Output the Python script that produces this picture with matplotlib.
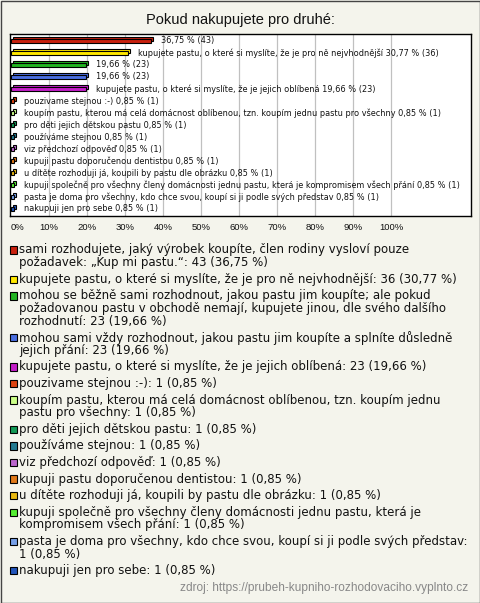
import matplotlib
matplotlib.use('Agg')
import matplotlib.pyplot as plt
from matplotlib.patches import Rectangle
import matplotlib.transforms as mtransforms

plt.rcParams['font.family'] = ['Liberation Sans', 'DejaVu Sans']

# ---------------- data ----------------
categories = [
    "sami rozhodujete, jaký výrobek koupíte, člen rodiny vysloví pouze požadavek: „Kup mi pastu.“",
    "kupujete pastu, o které si myslíte, že je pro ně nejvhodnější",
    "mohou se běžně sami rozhodnout, jakou pastu jim koupíte; ale pokud požadovanou pastu v obchodě nemají, kupujete jinou, dle svého dalšího rozhodnutí",
    "mohou sami vždy rozhodnout, jakou pastu jim koupíte a splníte důsledně jejich přání",
    "kupujete pastu, o které si myslíte, že je jejich oblíbená",
    "pouzivame stejnou :-)",
    "koupím pastu, kterou má celá domácnost oblíbenou, tzn. koupím jednu pastu pro všechny",
    "pro děti jejich dětskou pastu",
    "používáme stejnou",
    "viz předchozí odpověď",
    "kupuji pastu doporučenou dentistou",
    "u dítěte rozhoduji já, koupili by pastu dle obrázku",
    "kupuji společně pro všechny členy domácnosti jednu pastu, která je kompromisem všech přání",
    "pasta je doma pro všechny, kdo chce svou, koupí si ji podle svých představ",
    "nakupuji jen pro sebe",
]
inline_labels = [
    "",
    "kupujete pastu, o které si myslíte, že je pro ně nejvhodnější",
    "",
    "",
    "kupujete pastu, o které si myslíte, že je jejich oblíbená",
    "pouzivame stejnou :-)",
    "koupím pastu, kterou má celá domácnost oblíbenou, tzn. koupím jednu pastu pro všechny",
    "pro děti jejich dětskou pastu",
    "používáme stejnou",
    "viz předchozí odpověď",
    "kupuji pastu doporučenou dentistou",
    "u dítěte rozhoduji já, koupili by pastu dle obrázku",
    "kupuji společně pro všechny členy domácnosti jednu pastu, která je kompromisem všech přání",
    "pasta je doma pro všechny, kdo chce svou, koupí si ji podle svých představ",
    "nakupuji jen pro sebe",
]
counts = [43, 36, 23, 23, 23, 1, 1, 1, 1, 1, 1, 1, 1, 1, 1]
percents = [36.75, 30.77, 19.66, 19.66, 19.66, 0.85, 0.85, 0.85, 0.85, 0.85,
            0.85, 0.85, 0.85, 0.85, 0.85]
colors = ['#c8200e', '#ffe800', '#22b422', '#4a6ee0', '#c41ec8', '#dd4411',
          '#ccff88', '#119955', '#227a90', '#bb66cc', '#e07818', '#e8b810',
          '#55ee33', '#77a0e8', '#2255bb']
tick_values = [0, 10, 20, 30, 40, 50, 60, 70, 80, 90, 100]
tick_labels = ['0%', '10%', '20%', '30%', '40%', '50%', '60%', '70%', '80%', '90%', '100%']
title = "Pokud nakupujete pro druhé:"
source = "zdroj: https://prubeh-kupniho-rozhodovaciho.vyplnto.cz"

# ---------------- layout ----------------
W, H = 480, 603
BG = '#f4f4ec'
TXT = '#111111'
WIDE = ['DejaVu Sans']
fig = plt.figure(figsize=(W / 100, H / 100), dpi=100, facecolor=BG)


def fx(px):
    return px / W


def fy(py):
    return 1 - py / H


ax_l, ax_r, ax_t, ax_b = 10, 471, 34, 216
ax = fig.add_axes([fx(ax_l), fy(ax_b), fx(ax_r - ax_l), (ax_b - ax_t) / H])
ax.set_facecolor('white')
px_per_pct = 3.8
x0_px = 11
ax.set_xlim((ax_l - x0_px) / px_per_pct, (ax_r - x0_px) / px_per_pct)
row_px = 12
first_row_px = 41
ax.set_ylim((ax_b - first_row_px) / row_px, (ax_t - first_row_px) / row_px)

for v in tick_values[1:]:
    ax.axvline(v, color='#c0c0c0', lw=0.9, zorder=0)

n = len(categories)
ypos = list(range(n))
bar_h = 4.5 / row_px
depth = 2.0 / 100  # inches
back_tr = ax.transData + mtransforms.ScaledTranslation(depth, depth, fig.dpi_scale_trans)
ax.barh(ypos, percents, height=bar_h, color=colors, edgecolor='black',
        linewidth=0.8, transform=back_tr, zorder=2)
ax.barh(ypos, percents, height=bar_h, color=colors, edgecolor='black',
        linewidth=0.8, zorder=3)

for i in range(n):
    pct = f"{percents[i]:.2f}".replace('.', ',')
    txt = f"{inline_labels[i]} {pct} % ({counts[i]})".strip()
    ax.annotate(txt, xy=(percents[i], ypos[i]), xytext=(10, 0),
                textcoords='offset pixels', va='center', ha='left',
                fontsize=5.9, family=WIDE, color=TXT, zorder=4)

ax.set_xticks(tick_values)
ax.set_xticklabels(tick_labels, fontsize=6.8, color=TXT)
ax.tick_params(axis='x', length=0, pad=5)
ax.get_xticklabels()[0].set_ha('left')
ax.set_yticks([])
for s in ax.spines.values():
    s.set_color('black')
    s.set_linewidth(1.0)

fig.text(0.5, fy(20), title, ha='center', va='center', fontsize=10.5, color=TXT)

# ---------------- legend ----------------
fs_leg = 8.5
renderer = fig.canvas.get_renderer()


def width_px(s):
    t = fig.text(0, 0, s, fontsize=fs_leg, family=WIDE)
    w = t.get_window_extent(renderer).width
    t.remove()
    return w


text_x = 19
max_w = 470 - text_x
y = 250.0
line_h = 12.6
entry_gap = 4.0
for i in range(n):
    pct = f"{percents[i]:.2f}".replace('.', ',')
    label = f"{categories[i]}: {counts[i]} ({pct} %)"
    words = label.split(' ')
    lines = []
    cur = ''
    for w in words:
        cand = w if not cur else cur + ' ' + w
        if width_px(cand) <= max_w or not cur:
            cur = cand
        else:
            lines.append(cur)
            cur = w
    lines.append(cur)
    fig.patches.append(Rectangle((fx(9.5), fy(y + 3.8)), fx(7.5), 7.5 / H,
                                 transform=fig.transFigure, facecolor=colors[i],
                                 edgecolor='black', linewidth=0.8))
    for k, ln in enumerate(lines):
        fig.text(fx(text_x), fy(y + k * line_h), ln, ha='left', va='center',
                 fontsize=fs_leg, family=WIDE, color=TXT)
    y += len(lines) * line_h + entry_gap

fig.text(fx(468), fy(588), source, ha='right', va='center', fontsize=8.6, color='#888888')

fig.patches.append(Rectangle((0.5 / W, 0.5 / H), 1 - 1.0 / W, 1 - 1.0 / H,
                             transform=fig.transFigure, fill=False,
                             edgecolor='#444444', linewidth=1.0))

fig.savefig('out.png', dpi=100, facecolor=BG)
